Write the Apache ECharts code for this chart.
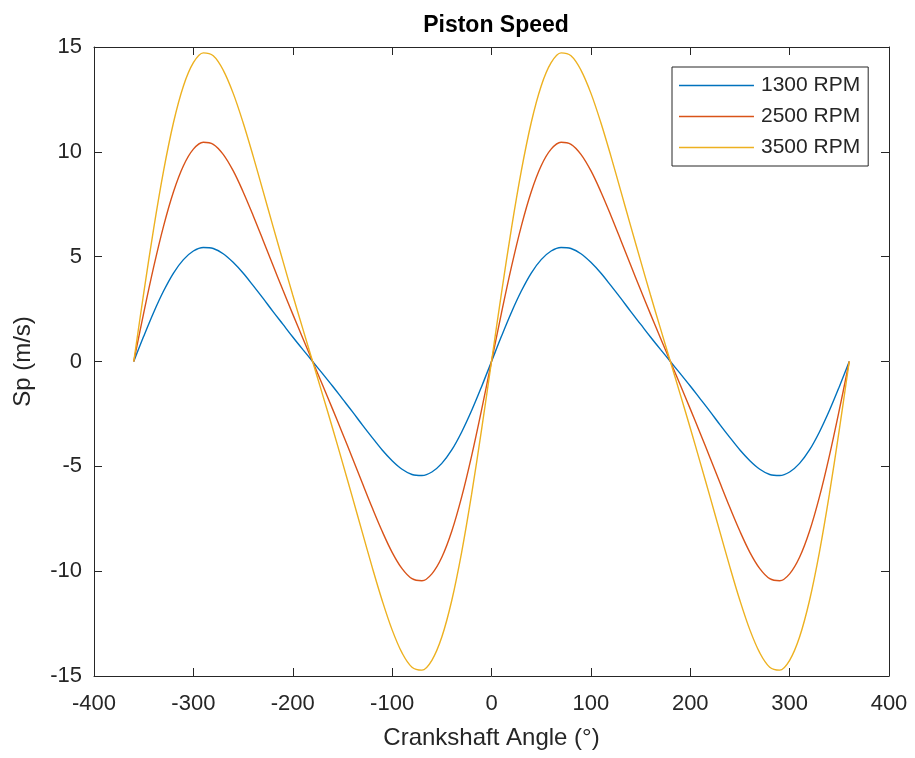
<!DOCTYPE html>
<html>
<head>
<meta charset="utf-8">
<script src="https://cdn.jsdelivr.net/npm/echarts@6/dist/echarts.min.js"></script>
<style>
html,body{margin:0;padding:0;background:#fff;}
#c{width:915px;height:758px;}
</style>
</head>
<body>
<div id="c"></div>
<script>
// Crankshaft angle (degrees), -360..360 step 10
const angles = [-360,-350,-340,-330,-320,-310,-300,-290,-280,-270,-260,-250,-240,-230,-220,-210,-200,-190,-180,
  -170,-160,-150,-140,-130,-120,-110,-100,-90,-80,-70,-60,-50,-40,-30,-20,-10,
  0,10,20,30,40,50,60,70,80,90,100,110,120,130,140,150,160,170,180,
  190,200,210,220,230,240,250,260,270,280,290,300,310,320,330,340,350,360];

const rpm1300 = [0,1.20,2.34,3.36,4.22,4.86,5.27,5.44,5.39,5.14,4.73,4.22,3.63,3.02,2.39,1.78,1.17,0.58,0,
  -0.58,-1.17,-1.78,-2.39,-3.02,-3.63,-4.22,-4.73,-5.14,-5.39,-5.44,-5.27,-4.86,-4.22,-3.36,-2.34,-1.20,
  0,1.20,2.34,3.36,4.22,4.86,5.27,5.44,5.39,5.14,4.73,4.22,3.63,3.02,2.39,1.78,1.17,0.58,0,
  -0.58,-1.17,-1.78,-2.39,-3.02,-3.63,-4.22,-4.73,-5.14,-5.39,-5.44,-5.27,-4.86,-4.22,-3.36,-2.34,-1.20,0];

const rpm2500 = [0,2.31,4.50,6.46,8.10,9.34,10.13,10.46,10.36,9.88,9.10,8.10,6.98,5.80,4.60,3.42,2.26,1.12,0,
  -1.12,-2.26,-3.42,-4.60,-5.80,-6.98,-8.10,-9.10,-9.88,-10.36,-10.46,-10.13,-9.34,-8.10,-6.46,-4.50,-2.31,
  0,2.31,4.50,6.46,8.10,9.34,10.13,10.46,10.36,9.88,9.10,8.10,6.98,5.80,4.60,3.42,2.26,1.12,0,
  -1.12,-2.26,-3.42,-4.60,-5.80,-6.98,-8.10,-9.10,-9.88,-10.36,-10.46,-10.13,-9.34,-8.10,-6.46,-4.50,-2.31,0];

const rpm3500 = [0,3.25,6.33,9.09,11.40,13.14,14.25,14.72,14.58,13.90,12.80,11.40,9.82,8.15,6.47,4.81,3.17,1.58,0,
  -1.58,-3.17,-4.81,-6.47,-8.15,-9.82,-11.40,-12.80,-13.90,-14.58,-14.72,-14.25,-13.14,-11.40,-9.09,-6.33,-3.25,
  0,3.25,6.33,9.09,11.40,13.14,14.25,14.72,14.58,13.90,12.80,11.40,9.82,8.15,6.47,4.81,3.17,1.58,0,
  -1.58,-3.17,-4.81,-6.47,-8.15,-9.82,-11.40,-12.80,-13.90,-14.58,-14.72,-14.25,-13.14,-11.40,-9.09,-6.33,-3.25,0];

const seriesNames = ['1300 RPM','2500 RPM','3500 RPM'];
const seriesValues = [rpm1300, rpm2500, rpm3500];
const colors = ['#0072BD','#D95319','#EDB120'];

const FONT = '"Liberation Sans", Arial, Helvetica, sans-serif';
const TXT = '#262626';

const chart = echarts.init(document.getElementById('c'), null, {renderer:'canvas'});

const axisCommon = {
  axisLine: {show:true, onZero:false, lineStyle:{color:TXT, width:1}},
  axisTick: {show:true, inside:true, length:8, lineStyle:{color:TXT}},
  splitLine: {show:false}
};

chart.setOption({
  backgroundColor:'#fff',
  animation:false,
  color: colors,
  title: {
    text:'Piston Speed', left:491, top:9, textAlign:'center',
    textStyle:{fontFamily:FONT, fontWeight:'bold', fontSize:23, color:'#000'}
  },
  legend: {
    orient:'vertical', left:672, top:67,
    backgroundColor:'#fff', borderColor:TXT, borderWidth:1,
    padding:[8,8,8,7], itemGap:10, itemWidth:75, itemHeight:20,
    icon:'path://M0,9.3H75V10.7H0Z M0,0H0.01V0.01H0Z M0,20H0.01V20.01H0Z',
    textStyle:{fontFamily:FONT, fontSize:21, color:TXT, padding:[0,0,0,2]},
    data: seriesNames
  },
  grid: {left:94, right:26, top:47, bottom:82, containLabel:false},
  xAxis: [
    Object.assign({
      type:'value', min:-400, max:400, interval:100, position:'bottom',
      name:'Crankshaft Angle (°)', nameLocation:'middle', nameGap:50,
      nameTextStyle:{fontFamily:FONT, fontSize:24, color:TXT},
      axisLabel:{fontFamily:FONT, fontSize:22, color:TXT, margin:17}
    }, axisCommon),
    Object.assign({
      type:'value', min:-400, max:400, interval:100, position:'top',
      axisLabel:{show:false}
    }, axisCommon)
  ],
  yAxis: [
    Object.assign({
      type:'value', min:-15, max:15, interval:5, position:'left',
      name:'Sp (m/s)', nameLocation:'middle', nameGap:59,
      nameTextStyle:{fontFamily:FONT, fontSize:24, color:TXT},
      axisLabel:{fontFamily:FONT, fontSize:22, color:TXT, margin:12}
    }, axisCommon),
    Object.assign({
      type:'value', min:-15, max:15, interval:5, position:'right',
      axisLabel:{show:false}
    }, axisCommon)
  ],
  series: seriesNames.map((n,i)=>({
    name:n, type:'line', xAxisIndex:0, yAxisIndex:0,
    symbol:'none', smooth:0.35,
    lineStyle:{width:1.4, color:colors[i]},
    itemStyle:{color:colors[i]},
    data: angles.map((a,k)=>[a, seriesValues[i][k]])
  }))
});
</script>
</body>
</html>
